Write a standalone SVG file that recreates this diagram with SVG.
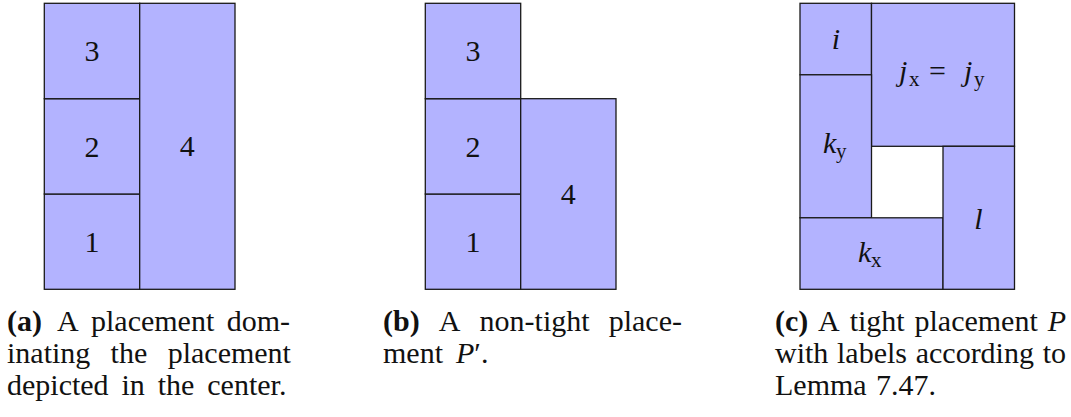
<svg xmlns="http://www.w3.org/2000/svg" width="1071" height="417" viewBox="0 0 1071 417">
<style>
.box{fill:#b3b3ff;stroke:#1a1a1a;stroke-width:1.3}
.lbl{font-family:"Liberation Serif",serif;font-size:30px;fill:#111;text-anchor:middle}
.ml{font-family:"Liberation Serif",serif;font-size:30px;fill:#111}
.mi{font-style:italic}
.sub{font-size:21px;font-style:normal}
.cap{font-family:"Liberation Serif",serif;font-size:30px;fill:#111}
.b{font-weight:bold}
</style>
<rect width="1071" height="417" fill="#fff"/>
<g id="panel-a">
<g id="a1"><rect class="box" x="44.3" y="194" width="95.4" height="95.3"/><text class="lbl" x="92" y="252">1</text></g>
<g id="a2"><rect class="box" x="44.3" y="98.7" width="95.4" height="95.3"/><text class="lbl" x="92" y="156.5">2</text></g>
<g id="a3"><rect class="box" x="44.3" y="3.3" width="95.4" height="95.4"/><text class="lbl" x="92" y="61">3</text></g>
<g id="a4"><rect class="box" x="139.7" y="3.3" width="95.3" height="286"/><text class="lbl" x="187.3" y="156">4</text></g>
</g>
<g id="panel-b">
<g id="b1"><rect class="box" x="425.3" y="194" width="95.4" height="95.3"/><text class="lbl" x="473" y="252">1</text></g>
<g id="b2"><rect class="box" x="425.3" y="98.7" width="95.4" height="95.3"/><text class="lbl" x="473" y="156.5">2</text></g>
<g id="b3"><rect class="box" x="425.3" y="3.3" width="95.4" height="95.4"/><text class="lbl" x="473" y="61">3</text></g>
<g id="b4"><rect class="box" x="520.7" y="98.7" width="95.3" height="190.6"/><text class="lbl" x="568.3" y="204">4</text></g>
</g>
<g id="panel-c">
<g id="ci"><rect class="box" x="800" y="3.3" width="71.5" height="71.5"/><text class="lbl mi" x="836" y="49">i</text></g>
<g id="cj"><rect class="box" x="871.5" y="3.3" width="143" height="143"/><text class="ml" y="81"><tspan class="mi" x="899">j</tspan><tspan class="sub" x="909" dy="5">x</tspan><tspan x="929" dy="-5">=</tspan><tspan class="mi" x="964">j</tspan><tspan class="sub" x="974" dy="5">y</tspan></text></g>
<g id="cky"><rect class="box" x="800" y="74.8" width="71.5" height="143"/><text class="ml" y="153"><tspan class="mi" x="823">k</tspan><tspan class="sub" x="836" dy="5">y</tspan></text></g>
<g id="ckx"><rect class="box" x="800" y="217.8" width="143" height="71.5"/><text class="ml" y="262"><tspan class="mi" x="858">k</tspan><tspan class="sub" x="871" dy="5">x</tspan></text></g>
<g id="cl"><rect class="box" x="943" y="146.3" width="71.5" height="143"/><text class="lbl mi" x="978.5" y="229">l</text></g>
</g>
<g id="captions">
<text class="cap" y="331"><tspan class="b" x="7">(a)</tspan><tspan x="57">A</tspan><tspan x="91">placement</tspan><tspan x="226.7">dom-</tspan></text>
<text class="cap" y="363"><tspan x="7">inating</tspan><tspan x="110.6">the</tspan><tspan x="167.7">placement</tspan></text>
<text class="cap" y="395"><tspan x="7">depicted</tspan><tspan x="121.5">in</tspan><tspan x="157.7">the</tspan><tspan x="207.3">center.</tspan></text>
<text class="cap" y="331"><tspan class="b" x="383">(b)</tspan><tspan x="438.8">A</tspan><tspan x="479.6">non-tight</tspan><tspan x="608.7">place-</tspan></text>
<text class="cap" y="363"><tspan x="383">ment</tspan><tspan x="456" font-style="italic">P</tspan><tspan>′.</tspan></text>
<text class="cap" y="331"><tspan class="b" x="775">(c)</tspan><tspan x="818">A</tspan><tspan x="849.7">tight</tspan><tspan x="914.5">placement</tspan><tspan x="1047.7" font-style="italic">P</tspan></text>
<text class="cap" y="363"><tspan x="775">with</tspan><tspan x="837">labels</tspan><tspan x="915.7">according</tspan><tspan x="1042.7">to</tspan></text>
<text class="cap" y="395"><tspan x="775">Lemma</tspan><tspan x="876">7.47.</tspan></text>
</g>
</svg>
